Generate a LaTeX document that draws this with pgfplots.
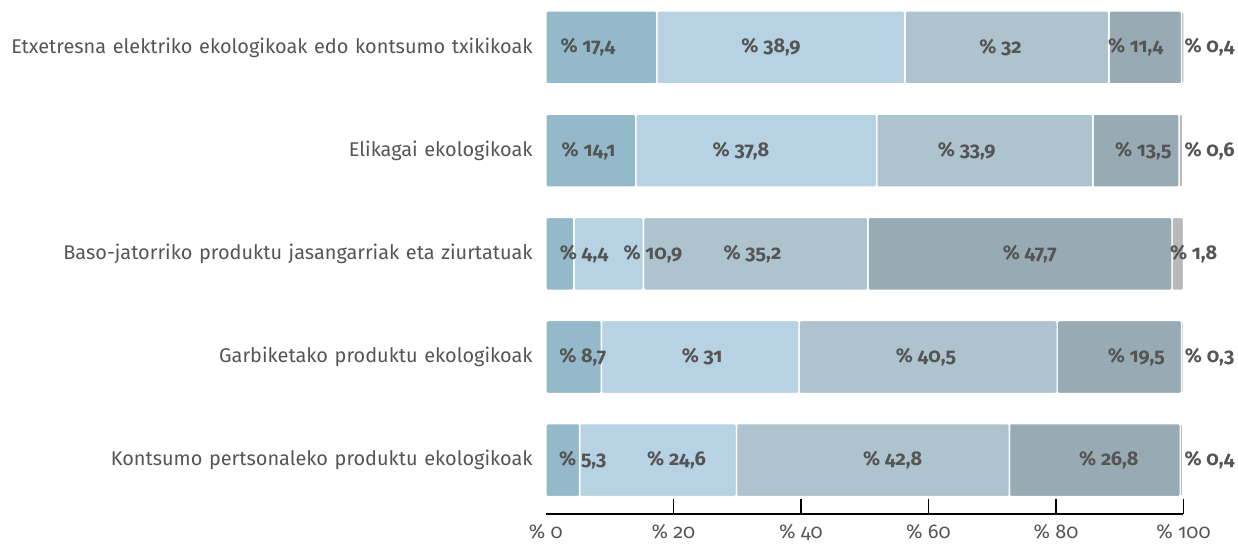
\documentclass[border=0pt]{standalone}
\usepackage{pgfplots}
\pgfplotsset{compat=1.18}
\usepackage{pgfplotstable}
\usepackage{fontspec}
\setmainfont{Fira Sans}[Numbers=OldStyle]
\definecolor{segA}{RGB}{148,185,203}
\definecolor{segB}{RGB}{183,210,227}
\definecolor{segC}{RGB}{173,196,206}
\definecolor{segD}{RGB}{152,170,180}
\definecolor{segE}{RGB}{185,185,185}
\definecolor{txt}{RGB}{85,85,85}

% shares per row (top row = 5)
\pgfplotstableread{
y  a    b    c    d    e
5  17.4 38.9 32   11.4 0.4
4  14.1 37.8 33.9 13.5 0.6
3  4.4  10.9 35.2 47.7 1.8
2  8.7  31   40.5 19.5 0.3
1  5.3  24.6 42.8 26.8 0.4
}\shares

% where the value labels sit
\pgfplotstableread{
y  x     v
5  6.6   17.4
5  35.3  38.9
5  71.3  32
5  92.5  11.4
5  104.1 0.4
4  6.7   14.1
4  30.6  37.8
4  66.0  33.9
4  93.7  13.5
4  104.1 0.6
3  6.0   4.4
3  16.8  10.9
3  32.4  35.2
3  75.9  47.7
3  101.6 1.8
2  5.8   8.7
2  24.5  31
2  59.6  40.5
2  92.6  19.5
2  104.1 0.3
1  5.8   5.3
1  20.5  24.6
1  54.4  42.8
1  88.3  26.8
1  104.1 0.4
}\labelpos

\pgfplotsset{
  common/.style={
    scale only axis, width=638bp, height=514.5bp,
    xmin=0, xmax=100, ymin=0.477, ymax=5.46,
    clip=false,
  },
}

\begin{document}
\begin{tikzpicture}
\begin{axis}[
  common,
  xbar stacked, bar width=73bp,
  axis x line*=bottom, axis y line*=left,
  y axis line style={draw=none},
  x axis line style={line width=1.6bp, black},
  ytick={1,2,3,4,5},
  yticklabels={Kontsumo pertsonaleko produktu ekologikoak,
    Garbiketako produktu ekologikoak,
    Baso-jatorriko produktu jasangarriak eta ziurtatuak,
    Elikagai ekologikoak,
    Etxetresna elektriko ekologikoak edo kontsumo txikikoak},
  ytick style={draw=none},
  y tick label style={font=\fontsize{20}{24}\selectfont, text=txt,
    inner sep=0pt, text width=533bp, align=right, anchor=east, xshift=-13bp},
  xtick={20,40,60,80,100},
  extra x ticks={0},
  extra x tick style={major tick length=0pt},
  tick align=inside,
  major tick length=15bp,
  xtick style={line width=1.6bp, black},
  xticklabel={\%~\pgfmathprintnumber{\tick}},
  /pgf/number format/assume math mode=true,
  x tick label style={font=\fontsize{20}{24}\selectfont, text=txt, yshift=-7bp},
  every axis plot/.append style={draw=white, line width=1.4bp, rounded corners=1.5bp},
]
\addplot[fill=segA] table[x=a, y=y] {\shares};
\addplot[fill=segB] table[x=b, y=y] {\shares};
\addplot[fill=segC] table[x=c, y=y] {\shares};
\addplot[fill=segD] table[x=d, y=y] {\shares};
\addplot[fill=segE] table[x=e, y=y] {\shares};
\end{axis}
\begin{axis}[common, hide axis]
\addplot[draw=none, mark=none, point meta=explicit,
  nodes near coords={\%~\pgfmathprintnumber[fixed, use comma, precision=1, assume math mode=true]{\pgfplotspointmeta}},
  nodes near coords style={anchor=center, font=\fontsize{20}{23}\selectfont\bfseries, text=txt},
] table[x=x, y=y, meta=v] {\labelpos};
\end{axis}
\end{tikzpicture}
\end{document}
